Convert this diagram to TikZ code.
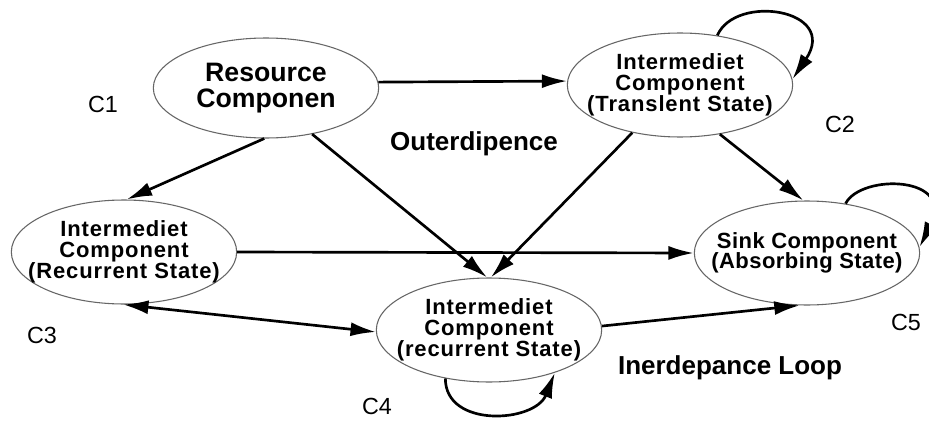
\documentclass[tikz,border=0pt]{standalone}
\usepackage{fontspec}
\setmainfont{Liberation Sans}
\usetikzlibrary{shapes.geometric,arrows.meta}
\begin{document}
\begin{tikzpicture}[x=0.75pt,y=-0.75pt,
  ell/.style={ellipse,draw=black!60,line width=0.8pt,fill=white,inner sep=-30pt,
    minimum width=169pt,minimum height=78pt,align=center,
    font=\fontsize{16.5}{15.8}\selectfont\bfseries\addfontfeatures{LetterSpace=4}},
  con/.style={-{Latex[length=19pt,width=10.5pt]},line width=2pt},
  dcon/.style={{Latex[length=19pt,width=10.5pt]}-{Latex[length=19pt,width=10.5pt]},line width=2pt},
  lbl/.style={font=\fontsize{17.5}{17.5}\selectfont},
  big/.style={font=\fontsize{19.5}{20}\selectfont\bfseries}]
\useasboundingbox[fill=white] (0,0) rectangle (929,421);

\node[ell,minimum height=75pt,font=\fontsize{20}{19.5}\selectfont\bfseries] (c1) at (266,88) {Resource\\Componen};
\node[ell] (c2) at (680,85) {Intermediet\\Component\\(Translent State)};
\node[ell] (c3) at (124,252) {Intermediet\\Component\\(Recurrent State)};
\node[ell] (c4) at (489,330) {Intermediet\\Component\\(recurrent State)};
\node[ell,font=\fontsize{16.5}{15.5}\selectfont\bfseries\addfontfeatures{LetterSpace=2}] (c5) at (807,253) {Sink Component\\(Absorbing State)};

\node[lbl] (l1) at (103,104) {C1};
\node[lbl] (l2) at (840,124) {C2};
\node[lbl] (l3) at (42,335) {C3};
\node[lbl] (l4) at (377,406) {C4};
\node[lbl] (l5) at (906,322) {C5};

\node[big] (od) at (474,144) {Outerdipence};
\node[big] (il) at (730,368) {Inerdepance Loop};

\draw[con] (c1.3) -- (c2.178);
\draw[con] (c1.-92) -- (c3.87);
\draw[con] (c1.-45) -- (c4.92);
\draw[con] (c2.-135) -- (c4.88);
\draw[con] (c2.-51) -- (c5.94);
\draw[con] (c3.0) -- (c5.180);
\draw[dcon] (c3.-91) -- (c4.181);
\draw[con] (c4.2) -- (c5.-98);

\draw[con] (c2.53) .. controls +(18,-42) and +(47,-70) .. (c2.3);
\draw[con] (c5.52) .. controls +(15,-30) and +(37,-72) .. (c5.3);
\draw[con] (c4.-132) .. controls +(0,50) and +(-20,50) .. (c4.-33);
\end{tikzpicture}
\end{document}
